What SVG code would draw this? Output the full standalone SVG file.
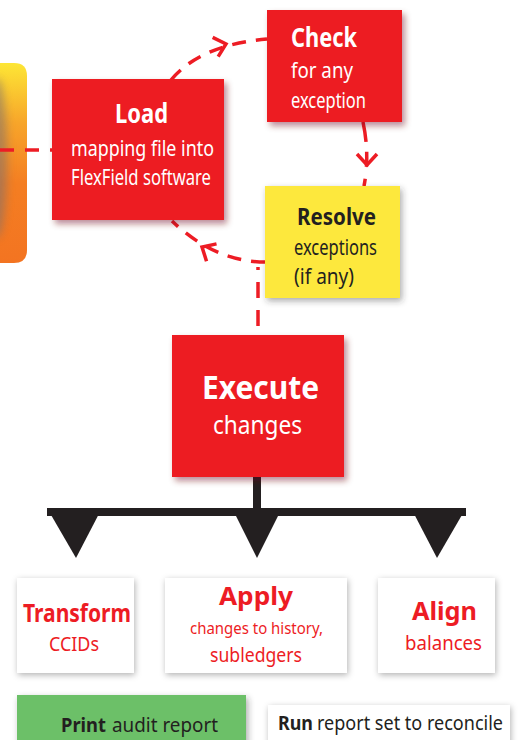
<svg xmlns="http://www.w3.org/2000/svg" xmlns:xlink="http://www.w3.org/1999/xlink" width="518" height="740" viewBox="0 0 518 740">
<defs>
  <style>
    text{font-family:"Noto Sans","Open Sans","Liberation Sans",sans-serif;}
    .b{font-weight:bold;}
    .w{fill:#FFFFFF;}
    .r{fill:#ED1C24;}
    .k{fill:#231F20;}
    .red{fill:#ED1C24;}
    .dash{fill:none;stroke:#ED1C24;stroke-width:3.5;stroke-dasharray:14 10;}
    .chev{fill:none;stroke:#ED1C24;stroke-width:3.5;stroke-linecap:butt;stroke-linejoin:miter;}
    .blk{fill:#231F20;}
  </style>
  <linearGradient id="og" x1="0" y1="63" x2="0" y2="263" gradientUnits="userSpaceOnUse">
    <stop offset="0" stop-color="#FDE635"/>
    <stop offset="0.3" stop-color="#F7A52A"/>
    <stop offset="0.6" stop-color="#F47E22"/>
    <stop offset="1" stop-color="#F37421"/>
  </linearGradient>
  <clipPath id="oc"><path d="M0,63 H14 Q27,63 27,76 V250 Q27,263 14,263 H0 Z"/></clipPath>
  <filter id="blur4" x="-100%" y="-50%" width="300%" height="200%"><feGaussianBlur stdDeviation="4"/></filter>
  <filter id="sr" x="-20%" y="-20%" width="140%" height="140%">
    <feDropShadow dx="3" dy="4" stdDeviation="3" flood-color="#6B0F12" flood-opacity="0.45"/>
  </filter>
  <filter id="sg" x="-20%" y="-20%" width="140%" height="140%">
    <feDropShadow dx="2" dy="3" stdDeviation="3" flood-color="#333" flood-opacity="0.4"/>
  </filter>
  <filter id="sw" x="-20%" y="-20%" width="140%" height="140%">
    <feDropShadow dx="1" dy="2" stdDeviation="3" flood-color="#000" flood-opacity="0.3"/>
  </filter>
  <path id="chevron" d="M-11,-10 L0,0 L-11,10" class="chev"/>
</defs>
<rect width="518" height="740" fill="#FFFFFF"/>

<g id="source">
  <path d="M0,63 H14 Q27,63 27,76 V250 Q27,263 14,263 H0 Z" fill="url(#og)"/>
  <g clip-path="url(#oc)">
    <ellipse cx="-3" cy="158" rx="10" ry="80" fill="#7A7070" opacity="0.55" filter="url(#blur4)"/>
  </g>
</g>

<g id="connectors">
  <path class="dash" d="M0,150 H52" style="stroke-dasharray:14 11"/>
  <path class="dash" d="M171,80 Q200,45 267,39"/>
  <use xlink:href="#chevron" href="#chevron" transform="translate(226,44) rotate(-16)"/>
  <path class="dash" d="M363,122 Q370,155 364,186" style="stroke-dasharray:20 10 15 12"/>
  <use xlink:href="#chevron" href="#chevron" transform="translate(367,165) rotate(90)"/>
  <path class="dash" d="M265,262 Q215,262 172,221"/>
  <use xlink:href="#chevron" href="#chevron" transform="translate(202,247) rotate(210)"/>
  <path class="dash" d="M258,262 V335" style="stroke-dasharray:0 5 3 12 16 12 16 12"/>
  <g id="tree">
    <rect class="blk" x="253" y="477" width="8" height="36"/>
    <rect class="blk" x="47" y="508" width="419" height="8"/>
    <polygon class="blk" points="47,508 102,508 76,558"/>
    <polygon class="blk" points="232,508 282,508 257,558"/>
    <polygon class="blk" points="411,508 466,508 437,558"/>
  </g>
</g>

<g id="load">
  <rect x="52" y="79" width="172" height="141" class="red" filter="url(#sr)"/>
  <text x="115" y="123" font-size="26" class="b w" textLength="53" lengthAdjust="spacingAndGlyphs">Load</text>
  <text x="71" y="156" font-size="21" class="w" textLength="143" lengthAdjust="spacingAndGlyphs">mapping file into</text>
  <text x="71" y="185" font-size="21" class="w" textLength="140" lengthAdjust="spacingAndGlyphs">FlexField software</text>
</g>

<g id="check">
  <rect x="267" y="10" width="135" height="112" class="red" filter="url(#sr)"/>
  <text x="291" y="47" font-size="26" class="b w" textLength="66" lengthAdjust="spacingAndGlyphs">Check</text>
  <text x="291" y="78" font-size="21" class="w" textLength="62" lengthAdjust="spacingAndGlyphs">for any</text>
  <text x="291" y="108" font-size="21" class="w" textLength="75" lengthAdjust="spacingAndGlyphs">exception</text>
</g>

<g id="resolve">
  <rect x="265" y="186" width="135" height="112" fill="#FDE83D" filter="url(#sg)"/>
  <text x="297" y="225" font-size="24" class="b k" textLength="79" lengthAdjust="spacingAndGlyphs">Resolve</text>
  <text x="294" y="255" font-size="21" class="k" textLength="83" lengthAdjust="spacingAndGlyphs">exceptions</text>
  <text x="294" y="284" font-size="21" class="k" textLength="60" lengthAdjust="spacingAndGlyphs">(if any)</text>
</g>

<g id="execute">
  <rect x="172" y="335" width="172" height="142" class="red" filter="url(#sr)"/>
  <text x="202" y="399" font-size="33" class="b w" textLength="117" lengthAdjust="spacingAndGlyphs">Execute</text>
  <text x="213" y="434" font-size="26" class="w" textLength="89" lengthAdjust="spacingAndGlyphs">changes</text>
</g>

<g id="transform">
  <rect x="17" y="578" width="117" height="95" fill="#FFFFFF" filter="url(#sw)"/>
  <text x="23" y="622" font-size="25" class="b r" textLength="108" lengthAdjust="spacingAndGlyphs">Transform</text>
  <text x="49" y="651" font-size="19" class="r" textLength="50" lengthAdjust="spacingAndGlyphs">CCIDs</text>
</g>

<g id="apply">
  <rect x="165" y="578" width="182" height="95" fill="#FFFFFF" filter="url(#sw)"/>
  <text x="219" y="605" font-size="25" class="b r" textLength="74" lengthAdjust="spacingAndGlyphs">Apply</text>
  <text x="190" y="634" font-size="16.5" class="r" textLength="133" lengthAdjust="spacingAndGlyphs">changes to history,</text>
  <text x="210" y="662" font-size="19" class="r" textLength="92" lengthAdjust="spacingAndGlyphs">subledgers</text>
</g>

<g id="align">
  <rect x="378" y="578" width="117" height="95" fill="#FFFFFF" filter="url(#sw)"/>
  <text x="412" y="620" font-size="25" class="b r" textLength="65" lengthAdjust="spacingAndGlyphs">Align</text>
  <text x="405" y="650" font-size="19.5" class="r" textLength="77" lengthAdjust="spacingAndGlyphs">balances</text>
</g>

<g id="print">
  <rect x="17" y="695" width="229" height="55" fill="#6CC067" filter="url(#sg)"/>
  <text y="732" font-size="19" class="k"><tspan x="61" class="b" textLength="45" lengthAdjust="spacingAndGlyphs">Print</tspan><tspan x="112" textLength="106" lengthAdjust="spacingAndGlyphs">audit report</tspan></text>
</g>

<g id="run">
  <rect x="268" y="705" width="242" height="45" fill="#FFFFFF" filter="url(#sw)"/>
  <text y="730" font-size="19" class="k"><tspan x="278" class="b" textLength="35" lengthAdjust="spacingAndGlyphs">Run</tspan><tspan x="317" textLength="186" lengthAdjust="spacingAndGlyphs">report set to reconcile</tspan></text>
</g>
</svg>
